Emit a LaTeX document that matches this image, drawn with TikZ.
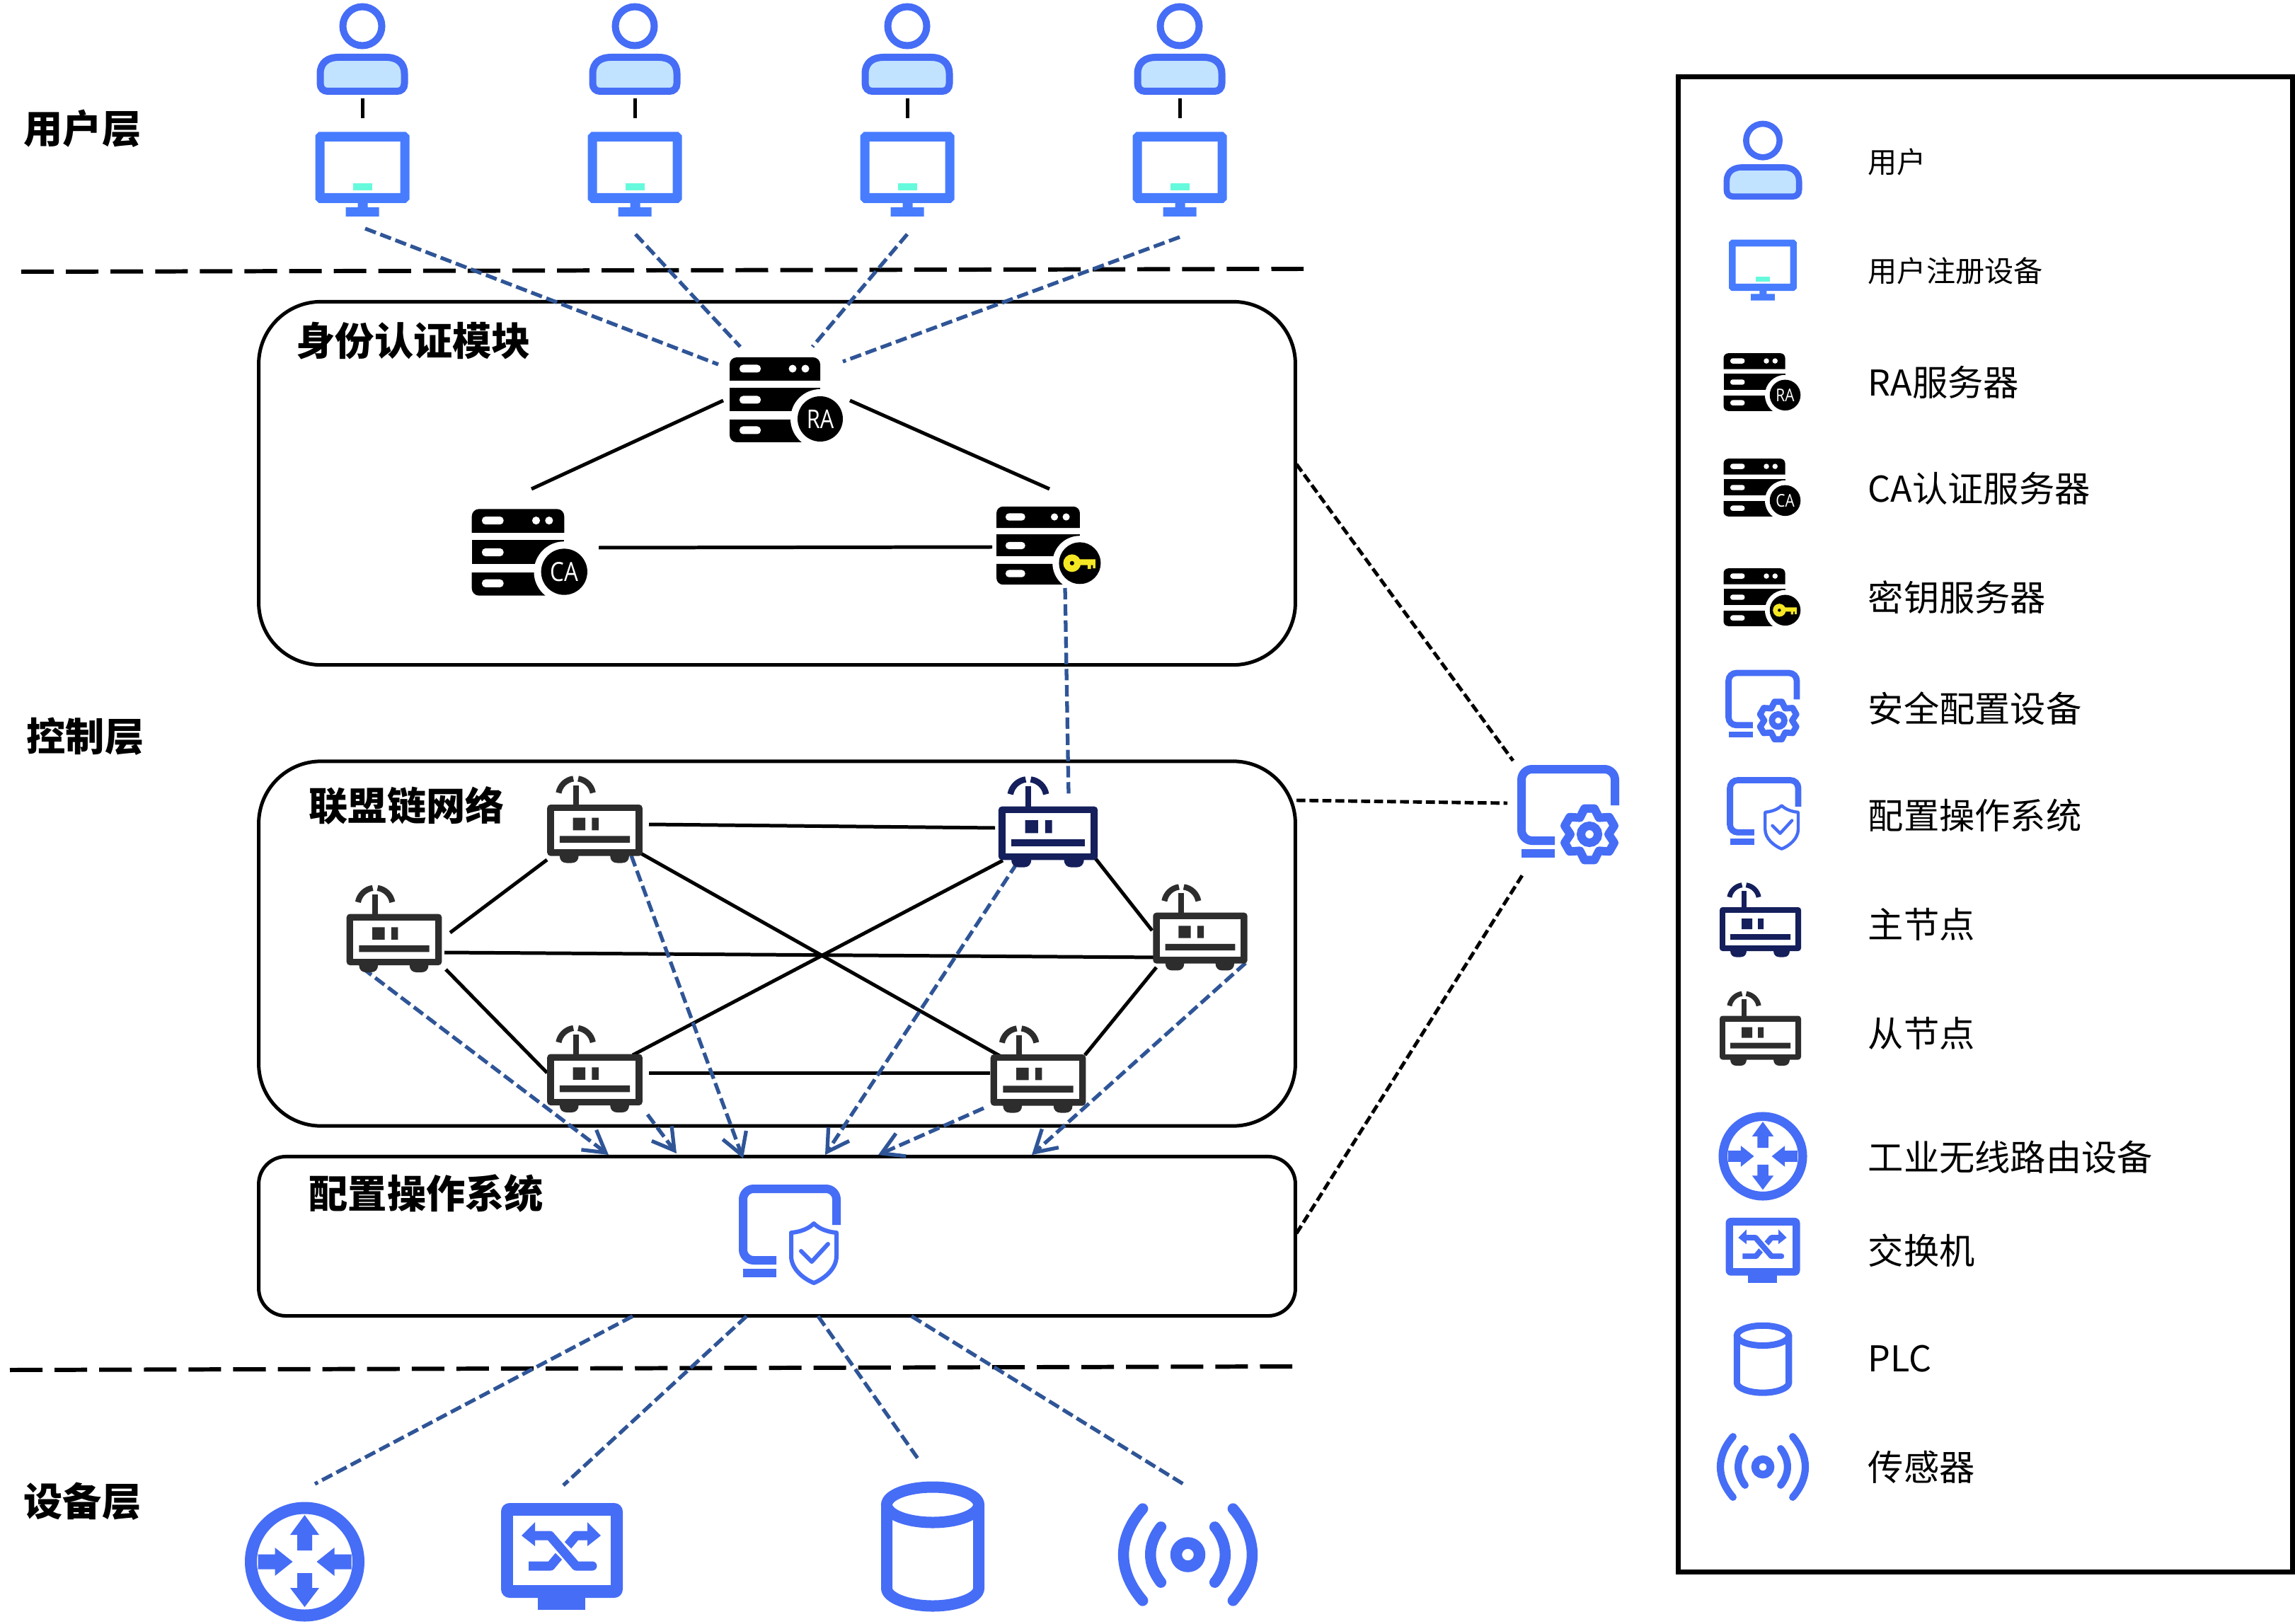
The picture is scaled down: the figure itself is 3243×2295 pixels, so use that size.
\documentclass[tikz,border=0pt]{standalone}
\usepackage{fontspec}
\usetikzlibrary{arrows.meta}
\setmainfont{Noto Sans CJK SC}
\newfontfamily\badgefont[FakeStretch=0.84]{Open Sans}
\definecolor{iconblue}{HTML}{466DF6}
\definecolor{monblue}{HTML}{477CFF}
\definecolor{tealmark}{HTML}{66FADD}
\definecolor{bodyfill}{HTML}{C2E3FF}
\definecolor{navy}{HTML}{141F5B}
\definecolor{slave}{HTML}{2D2D2D}
\definecolor{linkblue}{HTML}{2F5597}
\definecolor{keyyellow}{HTML}{F6E724}
\def\icons{1}
\tikzset{
  lw/.style={line width={#1*\icons*0.2845pt}},
  boxnode/.style={draw=black,line width=1.42pt,inner sep=0pt,rounded corners=#1},
  solidlink/.style={black,line width=1.42pt},
  linkdash/.style={linkblue,line width=1.5pt,dash pattern=on 4.6pt off 1.9pt},
  linkarrow/.style={linkdash,-{Straight Barb[length=8.5pt,width=10pt,line width=1.5pt]}},
  cfgdash/.style={black,line width=1.4pt,dash pattern=on 3.6pt off 1.6pt},
  layerdash/.style={black,line width=1.7pt,dash pattern=on 13.1pt off 4.84pt},
  boldlabel/.style={anchor=west,inner sep=0pt,font=\fontsize{15.7pt}{18pt}\selectfont\bfseries},
  leglabel/.style={anchor=west,inner sep=0pt,font=\fontsize{14.3pt}{17pt}\selectfont},
  leglabelsmall/.style={anchor=west,inner sep=0pt,font=\fontsize{11.7pt}{14pt}\selectfont},
}
% user
\newcommand\iconUser[3]{\begin{scope}[shift={(#1,#2)},scale=#3]\def\icons{#3}
  \draw[iconblue,lw=10] (0,-33) circle[radius=27.5];
  \draw[iconblue,lw=10,fill=bodyfill] (-59.5,34) .. controls (-59.5,18) and (-48,11) .. (-34,11) -- (34,11) .. controls (48,11) and (59.5,18) .. (59.5,34) -- (59.5,48) .. controls (59.5,55) and (55,59) .. (49,59) -- (-49,59) .. controls (-55,59) and (-59.5,55) .. (-59.5,48) -- cycle;
\end{scope}}
% monitor
\newcommand\iconMonitor[3]{\begin{scope}[shift={(#1,#2)},scale=#3]
  \fill[monblue,even odd rule] (-61.5,-59.5) -- (61.5,-59.5) -- (66.5,-54.5) -- (66.5,36) -- (61.5,41) -- (-61.5,41) -- (-66.5,36) -- (-66.5,-54.5) -- cycle
     (-53.5,-46) rectangle (53.5,27);
  \fill[tealmark] (-13.5,13) rectangle (13.5,23);
  \fill[monblue] (-6.5,41) rectangle (7.5,47) (-23.5,47) rectangle (23.5,60);
\end{scope}}
% server body
\newcommand\serverBody{%
  \fill[black] (-64,-27) -- (-64,-50) arc[start angle=180,end angle=270,radius=10] -- (54,-60) arc[start angle=270,end angle=360,radius=10] -- (64,-27) -- cycle;
  \fill[black] (-64,-17) rectangle (64,16);
  \fill[black] (-64,28) -- (64,28) -- (64,60) -- (-54,60) arc[start angle=90,end angle=180,radius=10] -- cycle;
  \foreach \yy in {-44,0,43} {\fill[white,rounded corners={5*\icons*0.2845pt}] (-50,\yy-5.5) rectangle (-20,\yy+5.5);}
  \fill[white] (25,-44) circle[radius=5.5] (43,-44) circle[radius=5.5];
  \fill[white] (64,27) circle[radius=42];
  \fill[black] (64,27) circle[radius=32];
}
\newcommand\iconServerText[6]{\begin{scope}[shift={(#1,#2)},scale=#3]\def\icons{#3}
  \serverBody
  \pgfmathsetmacro\sz{#3*10.4}
  \node[white,inner sep=0pt,font=\badgefont\fontsize{\sz pt}{\sz pt}\selectfont] (#6) at (64,27) {#5};
\end{scope}}
\newcommand\iconServerKey[3]{\begin{scope}[shift={(#1,#2)},scale=#3]\def\icons{#3}
  \serverBody
  \begin{scope}[shift={(64,27)}]
    \fill[keyyellow,even odd rule] (-12,0) circle[radius=13.5] (-12,0) circle[radius=3.5];
    \fill[keyyellow] (-5,-6) rectangle (24,3) (12,3) rectangle (17,9) (20,3) rectangle (24,8);
  \end{scope}
\end{scope}}
% blockchain node
\newcommand\iconRouter[4]{\begin{scope}[shift={(#1,#2)},scale=#3,#4]\def\icons{#3}
  \draw[lw=7,fill=none] (-23,-28) ++(190:21) arc[start angle=190,end angle=262,radius=21];
  \draw[lw=7,fill=none] (-23,-28) ++(278:21) arc[start angle=278,end angle=350,radius=21];
  \fill (-26.5,-41) rectangle (-19.5,-17);
  \fill[even odd rule,rounded corners={4*\icons*0.2845pt}] (-57.5,-17.5) rectangle (57.5,44.5);
  \fill[white] (-49.5,-9.5) rectangle (49.5,36.5);
  \fill (-26.5,-1.5) rectangle (-11.5,13.5) (-3.5,-1.5) rectangle (4.5,13.5) (-42.5,20.5) rectangle (42.5,28.5);
  \fill (-42.5,42) -- (-42.5,44) .. controls (-42.5,50) and (-39,53) .. (-34,53) -- (-28,53) .. controls (-23,53) and (-19.5,50) .. (-19.5,44) -- (-19.5,42) -- cycle;
  \fill (18.5,42) -- (18.5,44) .. controls (18.5,50) and (22,53) .. (27,53) -- (33,53) .. controls (38,53) and (41.5,50) .. (41.5,44) -- (41.5,42) -- cycle;
\end{scope}}
% frame shared by config and system icons
\newcommand\frameMon{%
  \draw[iconblue,lw=12,rounded corners={15*\icons*0.2845pt}] (65,-14) -- (65,-65) -- (-67,-65) -- (-67,36) -- (-20,36);
  \fill[iconblue] (-67,48) rectangle (-20,60);
}
\newcommand\iconGearMon[3]{\begin{scope}[shift={(#1,#2)},scale=#3]\def\icons{#3}
  \frameMon
  \begin{scope}[shift={(29,27)}]
    \draw[iconblue,lw=12,line join=round] (19:37) -- (41:37) -- (60:27) -- (79:37) -- (101:37) -- (120:27) -- (139:37) -- (161:37) -- (180:27) -- (199:37) -- (221:37) -- (240:27) -- (259:37) -- (281:37) -- (300:27) -- (319:37) -- (341:37) -- (0:27) -- cycle;
    \draw[iconblue,lw=12] (0,0) circle[radius=12];
  \end{scope}
\end{scope}}
\newcommand\iconShieldMon[3]{\begin{scope}[shift={(#1,#2)},scale=#3]\def\icons{#3}
  \frameMon
  \draw[iconblue,lw=6,line join=round] (33,-16) .. controls (25,-8) and (13,-4) .. (1,-3) -- (1,30) .. controls (1,48) and (18,62) .. (33,68) .. controls (48,62) and (65,48) .. (65,30) -- (65,-3) .. controls (53,-4) and (41,-8) .. (33,-16) -- cycle;
  \draw[iconblue,lw=6,line cap=round,line join=round] (15,23) -- (30,38) -- (53,13);
\end{scope}}
% wireless router
\newcommand\iconCross[3]{\begin{scope}[shift={(#1,#2)},scale=#3]\def\icons{#3}
  \draw[iconblue,lw=17] (0,0) circle[radius=76];
  \fill[iconblue] (0,-66) -- (20.5,-38) -- (10.5,-38) -- (10.5,-16) -- (-10.5,-16) -- (-10.5,-38) -- (-20.5,-38) -- cycle;
  \fill[iconblue] (0,64) -- (20.5,37) -- (10.5,37) -- (10.5,16) -- (-10.5,16) -- (-10.5,37) -- (-20.5,37) -- cycle;
  \fill[iconblue] (-17,0) -- (-42,-20) -- (-42,-10.5) -- (-66,-10.5) -- (-66,10.5) -- (-42,10.5) -- (-42,20) -- cycle;
  \fill[iconblue] (17,0) -- (42,-20) -- (42,-10.5) -- (66,-10.5) -- (66,10.5) -- (42,10.5) -- (42,20) -- cycle;
\end{scope}}
% switch
\newcommand\iconSwitch[3]{\begin{scope}[shift={(#1,#2)},scale=#3]\def\icons{#3}
  \fill[iconblue,even odd rule,rounded corners={12*\icons*0.2845pt}] (-86,-75.5) rectangle (86,58.5);
  \fill[white] (-69,-57.5) rectangle (69,40.5);
  \fill[iconblue] (-34,58) rectangle (33,75.5);
  \draw[iconblue,lw=13,line join=round] (36,-29.5) -- (20,-29.5) -- (-16,13.5) -- (-47,13.5);
  \draw[white,lw=20] (-13,-23) -- (16,6);
  \draw[iconblue,lw=13,line join=round,line cap=round] (-38,-29.5) -- (-17,-29.5) -- (20,13.5) -- (43,13.5);
  \fill[iconblue] (-57,-29.5) -- (-38,-48.5) -- (-38,-14.5) -- cycle;
  \fill[iconblue] (55,-29.5) -- (36,-48.5) -- (36,-14.5) -- cycle;
\end{scope}}
% PLC
\newcommand\iconPLC[3]{\begin{scope}[shift={(#1,#2)},scale=#3]\def\icons{#3}
  \draw[iconblue,lw=16] (0,-59.5) ellipse[x radius=65,y radius=25];
  \draw[iconblue,lw=16] (-65,-59.5) -- (-65,58.5) .. controls (-65,72) and (-35,83.5) .. (0,83.5) .. controls (35,83.5) and (65,72) .. (65,58.5) -- (65,-59.5);
\end{scope}}
% sensor
\newcommand\iconSensor[3]{\begin{scope}[shift={(#1,#2)},scale=#3]\def\icons{#3}
  \draw[iconblue,lw=16] (0,0) circle[radius=16];
  \draw[iconblue,lw=15,line cap=round] (-62,-63) .. controls (-97,-22) and (-97,22) .. (-62,63);
  \draw[iconblue,lw=15,line cap=round] (62,-63) .. controls (97,-22) and (97,22) .. (62,63);
  \draw[iconblue,lw=15,line cap=round] (-37,-38) .. controls (-56,-14) and (-56,14) .. (-37,38);
  \draw[iconblue,lw=15,line cap=round] (37,-38) .. controls (56,-14) and (56,14) .. (37,38);
\end{scope}}

\begin{document}
\begin{tikzpicture}[x=0.01cm,y=0.01cm,yscale=-1]
\useasboundingbox (0,0) rectangle (3243,2295);
\fill[white] (0,0) rectangle (3243,2295);

% layer lines
\coordinate (layerAa) at (30,384);  \coordinate (layerAb) at (1842,380);
\coordinate (layerBa) at (14,1936); \coordinate (layerBb) at (1826,1931);
\draw[layerdash] (layerAa) -- (layerAb);
\draw[layerdash] (layerBa) -- (layerBb);

% group boxes
\node[boxnode=25pt,minimum width=14.64cm,minimum height=5.13cm] (authbox) at (1098,683) {};
\node[boxnode=25pt,minimum width=14.64cm,minimum height=5.15cm] (chainbox) at (1098,1333.5) {};
\node[boxnode=11pt,minimum width=14.64cm,minimum height=2.25cm] (osbox) at (1098,1747) {};

% layer titles
\node[boldlabel] (tUser) at (33,182) {用户层};
\node[boldlabel] (tCtrl) at (37,1041) {控制层};
\node[boldlabel] (tDev) at (33,2122) {设备层};
\node[boldlabel] (tAuth) at (418,482) {身份认证模块};
\node[boldlabel] (tChain) at (436,1138) {联盟链网络};
\node[boldlabel] (tOS) at (436,1686) {配置操作系统};

% connector ends
\coordinate (m1) at (516,323); \coordinate (m2) at (898,331); \coordinate (m3) at (1282,331); \coordinate (m4) at (1667,335);
\coordinate (ra1) at (1015,515); \coordinate (ra2) at (1046,490); \coordinate (ra3) at (1148,490); \coordinate (ra4) at (1191,511);
\coordinate (raL) at (1022,566); \coordinate (raR) at (1201,566);
\coordinate (caT) at (751,691); \coordinate (keyT) at (1483,691);
\coordinate (caE) at (846,774); \coordinate (keyW) at (1402,773);
\coordinate (keyS) at (1505,831); \coordinate (pri) at (1510,1123);
\coordinate (n1a) at (773,1215); \coordinate (n3a) at (636,1318);
\coordinate (n3b) at (628,1346); \coordinate (n4b) at (1640,1353);
\coordinate (n3c) at (630,1370); \coordinate (n5c) at (773,1516);
\coordinate (n1d) at (917,1165); \coordinate (n2d) at (1406,1170);
\coordinate (n1e) at (902,1204); \coordinate (n6e) at (1418,1495);
\coordinate (n5f) at (894,1491); \coordinate (n2f) at (1417,1216);
\coordinate (n5g) at (917,1516); \coordinate (n6g) at (1399,1516);
\coordinate (n6h) at (1533,1491); \coordinate (n4h) at (1634,1367);
\coordinate (n2i) at (1547,1212); \coordinate (n4i) at (1628,1315);
\coordinate (s3) at (512,1368); \coordinate (d3) at (860,1632);
\coordinate (s1) at (892,1209); \coordinate (d1) at (1050,1637);
\coordinate (s5) at (915,1575); \coordinate (d5) at (956,1630);
\coordinate (s2) at (1437,1220); \coordinate (d2) at (1166,1632);
\coordinate (s6) at (1390,1566); \coordinate (d6) at (1241,1632);
\coordinate (s4) at (1760,1361); \coordinate (d4) at (1458,1632);
\coordinate (os1) at (894,1860); \coordinate (os2) at (1055,1860); \coordinate (os3) at (1156,1860); \coordinate (os4) at (1288,1860);
\coordinate (devA) at (445,2097); \coordinate (devB) at (796,2099); \coordinate (devC) at (1299,2064); \coordinate (devD) at (1675,2099);
\coordinate (cfgA) at (1832,656); \coordinate (cfgAe) at (2138,1075);
\coordinate (cfgB) at (1832,1131); \coordinate (cfgBe) at (2130,1135);
\coordinate (cfgC) at (1832,1743); \coordinate (cfgCe) at (2151,1237);
\foreach \ux/\nm in {512/ua,897/ub,1282/uc,1667/ud}{
  \coordinate (\nm t) at (\ux,139); \coordinate (\nm b) at (\ux,167);
  \draw[solidlink] (\nm t) -- (\nm b);
}

% solid links
\draw[solidlink] (raL) -- (caT);
\draw[solidlink] (raR) -- (keyT);
\draw[solidlink] (caE) -- (keyW);
\draw[solidlink] (n1a) -- (n3a);
\draw[solidlink] (n3b) -- (n4b);
\draw[solidlink] (n3c) -- (n5c);
\draw[solidlink] (n1d) -- (n2d);
\draw[solidlink] (n1e) -- (n6e);
\draw[solidlink] (n5f) -- (n2f);
\draw[solidlink] (n5g) -- (n6g);
\draw[solidlink] (n6h) -- (n4h);
\draw[solidlink] (n2i) -- (n4i);

% dashed links
\draw[linkdash] (m1) -- (ra1);
\draw[linkdash] (m2) -- (ra2);
\draw[linkdash] (m3) -- (ra3);
\draw[linkdash] (m4) -- (ra4);
\draw[linkdash] (keyS) -- (pri);
\draw[linkarrow] (s3) -- (d3);
\draw[linkarrow] (s1) -- (d1);
\draw[linkarrow] (s5) -- (d5);
\draw[linkarrow] (s2) -- (d2);
\draw[linkarrow] (s6) -- (d6);
\draw[linkarrow] (s4) -- (d4);
\draw[linkdash] (os1) -- (devA);
\draw[linkdash] (os2) -- (devB);
\draw[linkdash] (os3) -- (devC);
\draw[linkdash] (os4) -- (devD);
\draw[cfgdash] (cfgA) -- (cfgAe);
\draw[cfgdash] (cfgB) -- (cfgBe);
\draw[cfgdash] (cfgC) -- (cfgCe);

% users
\foreach \ux in {512,897,1282,1667}{
  \iconUser{\ux}{70}{1}
  \iconMonitor{\ux}{246}{1}
}
% servers
\iconServerText{1095}{565}{1}{}{RA}{badgeRA}
\iconServerText{732}{780.5}{1.02}{}{CA}{badgeCA}
\iconServerKey{1467}{771}{0.92}

% chain nodes
\iconRouter{840.5}{1157.5}{1.17}{slave}
\iconRouter{1481}{1161}{1.22}{navy}
\iconRouter{557}{1312}{1.17}{slave}
\iconRouter{1696}{1310}{1.16}{slave}
\iconRouter{840.5}{1510}{1.17}{slave}
\iconRouter{1467}{1510.5}{1.17}{slave}

% system icons
\iconShieldMon{1117}{1745}{1}
\iconGearMon{2217}{1152}{1}

% devices
\iconCross{430.5}{2207}{1}
\iconSwitch{794}{2199.5}{1}
\iconPLC{1318}{2186}{1}
\iconSensor{1678.5}{2197}{1.03}

% legend
\node[draw=black,line width=2pt,inner sep=0pt,minimum width=8.68cm,minimum height=21.11cm] (legendbox) at (2805.5,1165) {};
\iconUser{2491}{227}{0.86}
\iconMonitor{2491}{381.5}{0.72}
\iconServerText{2479}{540}{0.68}{}{RA}{lgRA}
\iconServerText{2479}{689}{0.68}{}{CA}{lgCA}
\iconServerKey{2479}{844}{0.68}
\iconGearMon{2491.5}{998.5}{0.73}
\iconShieldMon{2493.5}{1150}{0.73}
\iconRouter{2487.5}{1299.5}{1}{navy}
\iconRouter{2487.5}{1453}{1}{slave}
\iconCross{2491}{1634}{0.74}
\iconSwitch{2491}{1767}{0.61}
\iconPLC{2491}{1921}{0.565}
\iconSensor{2491}{2073}{0.68}

\node[leglabelsmall] (l1) at (2639,229) {用户};
\node[leglabelsmall] (l2) at (2639,383) {用户注册设备};
\node[leglabel] (l3) at (2639,540) {RA服务器};
\node[leglabel] (l4) at (2639,690) {CA认证服务器};
\node[leglabel] (l5) at (2639,844) {密钥服务器};
\node[leglabel] (l6) at (2639,1001) {安全配置设备};
\node[leglabel] (l7) at (2639,1152) {配置操作系统};
\node[leglabel] (l8) at (2639,1306) {主节点};
\node[leglabel] (l9) at (2639,1460) {从节点};
\node[leglabel] (l10) at (2639,1635) {工业无线路由设备};
\node[leglabel] (l11) at (2639,1767) {交换机};
\node[leglabel] (l12) at (2639,1920) {PLC};
\node[leglabel] (l13) at (2639,2073) {传感器};
\end{tikzpicture}
\end{document}
